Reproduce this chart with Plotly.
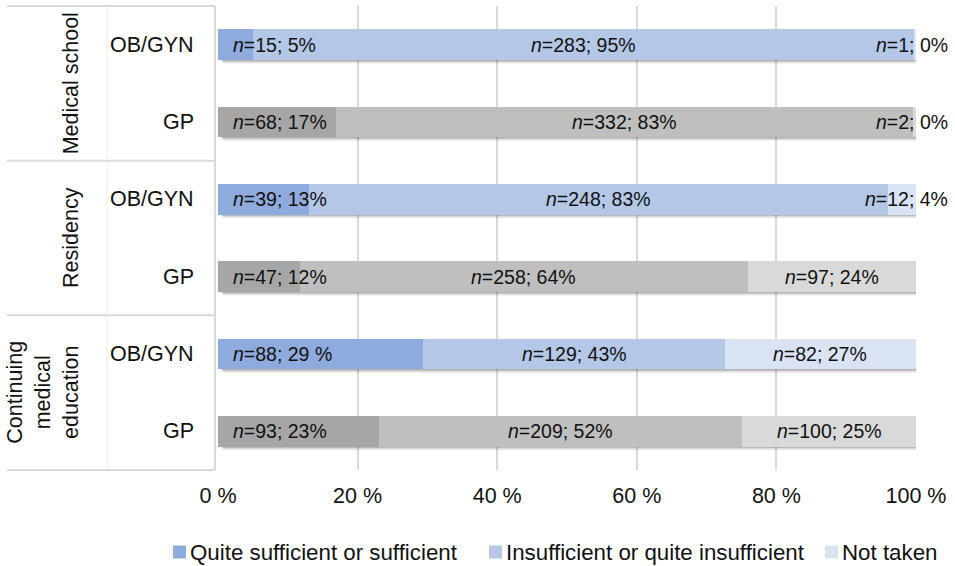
import plotly.graph_objects as go

# Training stages (rows are grouped two per stage) and specialties
stages = ["Medical school", "Residency", "Continuing<br>medical<br>education"]
specialties = ["OB/GYN", "GP"]

# Respondent counts per row, top to bottom:
# Medical school OB/GYN, GP, Residency OB/GYN, GP, CME OB/GYN, GP
n_sufficient = [15, 68, 39, 47, 88, 93]
n_insufficient = [283, 332, 248, 258, 129, 209]
n_not_taken = [1, 2, 12, 97, 82, 100]

# Percent labels as printed next to each count
pct_sufficient = ["5%", "17%", "13%", "12%", "29 %", "23%"]
pct_insufficient = ["95%", "83%", "83%", "64%", "43%", "52%"]
pct_not_taken = ["0%", "0%", "4%", "24%", "27%", "25%"]

# Axis ticks
tick_values = [0, 20, 40, 60, 80, 100]
tick_labels = ["0 %", "20 %", "40 %", "60 %", "80 %", "100 %"]

series_names = ["Quite sufficient or sufficient",
                "Insufficient or quite insufficient",
                "Not taken"]
blue_shades = ["#8FAADC", "#B4C7E7", "#DAE3F3"]
gray_shades = ["#A6A6A6", "#BFBFBF", "#D9D9D9"]

FONT = "Liberation Sans, Arial, sans-serif"
TEXT = "#111111"

W, H = 955, 566
ML, MR, MT, MB = 218, 39, 6, 96
PW, PH = W - ML - MR, H - MT - MB

counts = [n_sufficient, n_insufficient, n_not_taken]
labels = [pct_sufficient, pct_insufficient, pct_not_taken]
nrows = len(n_sufficient)
totals = [sum(c[i] for c in counts) for i in range(nrows)]
shares = [[c[i] / totals[i] * 100 for i in range(nrows)] for c in counts]
ypos = list(range(nrows - 1, -1, -1))  # first row at the top
is_obgyn = [i % 2 == 0 for i in range(nrows)]

BAR_W = 0.4
fig = go.Figure()

for k in range(3):
    for obgyn in (True, False):
        idx = [i for i in range(nrows) if is_obgyn[i] == obgyn]
        fig.add_trace(go.Bar(
            x=[shares[k][i] for i in idx],
            y=[ypos[i] for i in idx],
            orientation="h",
            width=BAR_W,
            name=series_names[k],
            marker=dict(color=(blue_shades if obgyn else gray_shades)[k],
                        line=dict(width=0)),
            showlegend=False,
            hoverinfo="skip",
        ))


def px_to_paper_x(px):
    return (px - ML) / PW


def px_to_paper_y(py):
    return (PH - (py - MT)) / PH


# soft drop shadow under each bar
px_x = 100 / PW
px_y = 6 / PH
shapes = []
for i in range(nrows):
    end = sum(shares[k][i] for k in range(3))
    for grow, op in ((0, 0.14), (1, 0.09), (2, 0.06), (3, 0.03)):
        shapes.append(dict(
            type="rect", xref="x", yref="y", layer="between",
            x0=(3 + grow) * px_x, x1=end + (1 + grow) * px_x,
            y0=ypos[i] - BAR_W / 2 - (1 + grow) * px_y,
            y1=ypos[i] + BAR_W / 2 - 2 * px_y,
            fillcolor="rgba(0,0,0,1)", opacity=op, line=dict(width=0),
        ))

# category table on the left
line_col = "#D9D9D9"
for yb in (0, 1 / 3, 2 / 3, 1):
    shapes.append(dict(type="line", xref="paper", yref="paper",
                       x0=px_to_paper_x(7), x1=px_to_paper_x(215), y0=yb, y1=yb,
                       line=dict(color=line_col, width=2)))
shapes.append(dict(type="line", xref="paper", yref="paper",
                   x0=px_to_paper_x(215), x1=px_to_paper_x(215), y0=0, y1=1,
                   line=dict(color=line_col, width=2)))
shapes.append(dict(type="line", xref="paper", yref="paper",
                   x0=px_to_paper_x(107), x1=px_to_paper_x(107), y0=0, y1=1,
                   line=dict(color="#EBEBEB", width=1)))

annotations = []
for g, stage in enumerate(stages):
    annotations.append(dict(
        text=stage, xref="paper", yref="paper",
        x=px_to_paper_x(85), xanchor="right",
        y=1 - (g + 0.5) / 3, yanchor="middle",
        textangle=-90, showarrow=False, align="center",
        font=dict(family=FONT, size=21.5, color=TEXT),
    ))
for i in range(nrows):
    annotations.append(dict(
        text=specialties[i % 2], xref="paper", yref="y",
        x=px_to_paper_x(196), xanchor="right", y=ypos[i], yanchor="middle",
        showarrow=False, font=dict(family=FONT, size=21.5, color=TEXT),
    ))

# value labels
lab_font = dict(family=FONT, size=19.5, color=TEXT)
for i in range(nrows):
    start = 0
    for k in range(3):
        txt = f"<i>n</i>={counts[k][i]}; {labels[k][i]}"
        s = shares[k][i]
        if k == 0:
            ann = dict(x=0, xanchor="left", xshift=13)
        elif s < 5:
            ann = dict(x=start + s, xanchor="right", xshift=34)
        else:
            ann = dict(x=start + s / 2, xanchor="center")
        ann.update(text=txt, y=ypos[i], yanchor="middle", xref="x", yref="y",
                   showarrow=False, font=lab_font)
        annotations.append(ann)
        start += s

# legend row: colour key square followed by the series name
legend_y = px_to_paper_y(552)
legend_left_px = [173, 489, 825]
KEY = 13
for k, name in enumerate(series_names):
    x0 = legend_left_px[k]
    shapes.append(dict(type="rect", xref="paper", yref="paper",
                       x0=px_to_paper_x(x0), x1=px_to_paper_x(x0 + KEY),
                       y0=legend_y - KEY / 2 / PH, y1=legend_y + KEY / 2 / PH,
                       fillcolor=blue_shades[k], line=dict(width=0)))
    annotations.append(dict(text=name, xref="paper", yref="paper",
                            x=px_to_paper_x(x0 + KEY + 2), xanchor="left",
                            y=legend_y, yanchor="middle", showarrow=False,
                            font=dict(family=FONT, size=22.3, color=TEXT)))

fig.update_layout(
    width=W, height=H,
    margin=dict(l=ML, r=MR, t=MT, b=MB),
    barmode="stack",
    plot_bgcolor="white", paper_bgcolor="white",
    font=dict(family=FONT, size=21.5, color=TEXT),
    shapes=shapes, annotations=annotations,
    showlegend=False,
    xaxis=dict(range=[0, 100], tickmode="array", tickvals=tick_values,
               ticktext=tick_labels, showgrid=True, gridcolor="#D9D9D9",
               gridwidth=1.5, zeroline=False, showline=False,
               ticklabelstandoff=10, fixedrange=True),
    yaxis=dict(range=[-0.5, nrows - 0.5], showticklabels=False,
               showgrid=False, zeroline=False, fixedrange=True),
)

fig.write_html("out.html")
